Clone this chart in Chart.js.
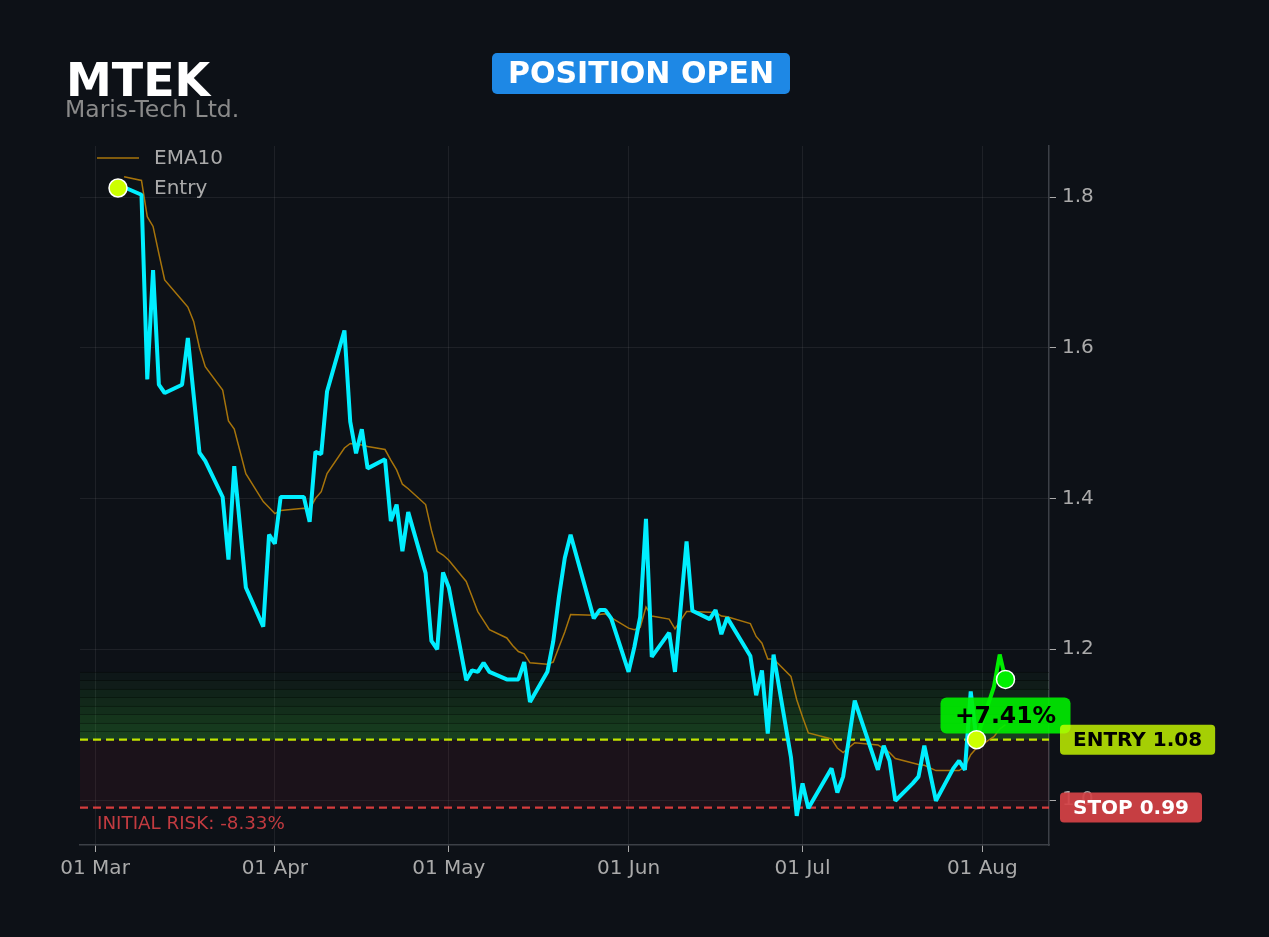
<!DOCTYPE html>
<html>
<head>
<meta charset="utf-8">
<title>MTEK position</title>
<script src="https://cdn.jsdelivr.net/npm/chart.js@4.4.1/dist/chart.umd.min.js"></script>
<style>
  html, body { margin: 0; padding: 0; background: #0d1117; }
  canvas { display: block; }
</style>
</head>
<body>
<canvas id="chart" width="1269" height="937"></canvas>
<script>
// --- data ---
const dates = [
  '2026-03-06','2026-03-09','2026-03-10','2026-03-11','2026-03-12','2026-03-13',
  '2026-03-16','2026-03-17','2026-03-18','2026-03-19','2026-03-20',
  '2026-03-23','2026-03-24','2026-03-25','2026-03-27',
  '2026-03-30','2026-03-31','2026-04-01','2026-04-02',
  '2026-04-06','2026-04-07','2026-04-08','2026-04-09','2026-04-10',
  '2026-04-13','2026-04-14','2026-04-15','2026-04-16','2026-04-17',
  '2026-04-20','2026-04-21','2026-04-22','2026-04-23','2026-04-24',
  '2026-04-27','2026-04-28','2026-04-29','2026-04-30','2026-05-01',
  '2026-05-04','2026-05-05','2026-05-06','2026-05-07','2026-05-08',
  '2026-05-11','2026-05-12','2026-05-13','2026-05-14','2026-05-15',
  '2026-05-18','2026-05-19','2026-05-20','2026-05-21','2026-05-22',
  '2026-05-26','2026-05-27','2026-05-28','2026-05-29',
  '2026-06-01','2026-06-02','2026-06-03','2026-06-04','2026-06-05',
  '2026-06-08','2026-06-09','2026-06-11','2026-06-12',
  '2026-06-15','2026-06-16','2026-06-17','2026-06-18',
  '2026-06-22','2026-06-23','2026-06-24','2026-06-25','2026-06-26',
  '2026-06-29','2026-06-30','2026-07-01','2026-07-02',
  '2026-07-06','2026-07-07','2026-07-08','2026-07-10',
  '2026-07-14','2026-07-15','2026-07-16','2026-07-17',
  '2026-07-20','2026-07-21','2026-07-22','2026-07-24',
  '2026-07-27','2026-07-28','2026-07-29','2026-07-30','2026-07-31',
  '2026-08-03','2026-08-04','2026-08-05'
]

const closes = [
  1.813, 1.803, 1.558, 1.703, 1.551, 1.540,
  1.551, 1.613, 1.537, 1.461, 1.450,
  1.402, 1.319, 1.443, 1.282,
  1.230, 1.352, 1.340, 1.402,
  1.402, 1.369, 1.462, 1.459, 1.542,
  1.623, 1.502, 1.460, 1.492, 1.440,
  1.452, 1.370, 1.392, 1.330, 1.382,
  1.301, 1.211, 1.200, 1.302, 1.282,
  1.159, 1.172, 1.170, 1.182, 1.170,
  1.160, 1.160, 1.160, 1.183, 1.130,
  1.170, 1.210, 1.270, 1.321, 1.352,
  1.241, 1.252, 1.252, 1.241,
  1.170, 1.203, 1.243, 1.373, 1.190,
  1.222, 1.170, 1.343, 1.251,
  1.240, 1.252, 1.220, 1.242,
  1.191, 1.139, 1.172, 1.088, 1.193,
  1.057, 0.979, 1.022, 0.989,
  1.042, 1.010, 1.031, 1.132,
  1.040, 1.072, 1.052, 0.999,
  1.022, 1.031, 1.072, 0.999,
  1.042, 1.052, 1.040, 1.144, 1.080,
  1.150, 1.193, 1.160
]

const ema10 = [
  1.827, 1.822, 1.774, 1.761, 1.725, 1.690,
  1.663, 1.654, 1.635, 1.600, 1.575,
  1.544, 1.503, 1.492, 1.433,
  1.396, 1.388, 1.380, 1.384,
  1.387, 1.386, 1.400, 1.409, 1.433,
  1.467, 1.473, 1.472, 1.471, 1.469,
  1.465, 1.451, 1.438, 1.419, 1.413,
  1.392, 1.358, 1.330, 1.325, 1.318,
  1.290, 1.270, 1.250, 1.238, 1.226,
  1.215, 1.205, 1.197, 1.194, 1.182,
  1.180, 1.183, 1.203, 1.223, 1.246,
  1.245, 1.246, 1.247, 1.242,
  1.228, 1.226, 1.229, 1.256, 1.244,
  1.240, 1.227, 1.250, 1.250,
  1.249, 1.249, 1.244, 1.243,
  1.234, 1.217, 1.208, 1.187, 1.187,
  1.164, 1.133, 1.110, 1.089,
  1.081, 1.069, 1.063, 1.076,
  1.073, 1.068, 1.063, 1.055,
  1.049, 1.047, 1.046, 1.039,
  1.039, 1.039, 1.044, 1.060, 1.069,
  1.084, 1.094, 1.100
]

const entryDate = '2026-07-31'
const entryPrice = 1.08
const stopPrice = 0.99

const xTickDates = ['2026-03-01','2026-04-01','2026-05-01','2026-06-01','2026-07-01','2026-08-01']
const xTickLabels = ['01 Mar','01 Apr','01 May','01 Jun','01 Jul','01 Aug']
const yTicks = [1.0, 1.2, 1.4, 1.6, 1.8]

// --- look ---
const CYAN = '#00eeff'
const GREEN = '#00ee00'
const LIME = '#ccff00'
const EMA_COLOR = 'rgba(184,128,10,0.9)'
const FONT = 'DejaVu Sans'
const bandTop = 1.17
const bandCount = 8

Chart.defaults.font.family = FONT

const dayOf = s => {
  const [y, m, d] = s.split('-').map(Number)
  return (Date.UTC(y, m - 1, d) - Date.UTC(2026, 2, 1)) / 86400000
}

const days = dates.map(dayOf)
const entryDay = dayOf(entryDate)
const lastDay = days[days.length - 1]
const lastClose = closes[closes.length - 1]
const pnl = (lastClose / entryPrice - 1) * 100
const risk = (stopPrice / entryPrice - 1) * 100

const pricePoints = days.map((x, i) => ({ x, y: closes[i] }))
const emaPoints = days.map((x, i) => ({ x, y: ema10[i] }))

const roundBox = (ctx, x, y, w, h, r, fill) => {
  ctx.beginPath()
  ctx.roundRect(x, y, w, h, r)
  ctx.fillStyle = fill
  ctx.fill()
}

// entry / stop zones and their dashed lines
const zones = {
  id: 'zones',
  beforeDatasetsDraw(chart) {
    const { ctx, chartArea: a, scales: { y } } = chart
    const yEntry = y.getPixelForValue(entryPrice)
    const yStop = y.getPixelForValue(stopPrice)
    ctx.save()
    ctx.beginPath()
    ctx.rect(a.left, a.top, a.width, a.height)
    ctx.clip()

    ctx.fillStyle = 'rgba(200,40,60,0.08)'
    ctx.fillRect(a.left, yEntry, a.width, yStop - yEntry)

    const step = (bandTop - entryPrice) / bandCount
    for (let i = 0; i < bandCount; i++) {
      const y0 = y.getPixelForValue(entryPrice + i * step)
      const y1 = y.getPixelForValue(entryPrice + (i + 1) * step)
      const alpha = 0.29 - i * (0.25 / (bandCount - 1))
      ctx.fillStyle = `rgba(50,180,50,${alpha.toFixed(3)})`
      ctx.fillRect(a.left, y1, a.width, y0 - y1)
      ctx.strokeStyle = 'rgba(0,0,0,0.35)'
      ctx.lineWidth = 1
      ctx.beginPath()
      ctx.moveTo(a.left, Math.round(y1) + 0.5)
      ctx.lineTo(a.right, Math.round(y1) + 0.5)
      ctx.stroke()
    }

    ctx.lineWidth = 2.2
    ctx.setLineDash([8, 5])
    ctx.strokeStyle = 'rgba(204,240,0,0.95)'
    ctx.beginPath()
    ctx.moveTo(a.left, yEntry)
    ctx.lineTo(a.right, yEntry)
    ctx.stroke()
    ctx.strokeStyle = 'rgba(235,65,65,0.9)'
    ctx.beginPath()
    ctx.moveTo(a.left, yStop)
    ctx.lineTo(a.right, yStop)
    ctx.stroke()
    ctx.restore()
  },
  beforeDatasetDraw(chart, args) {
    // P&L badge sits above the price line but under the markers
    if (args.index !== 2) return
    const { ctx, scales: { x, y } } = chart
    const cx = x.getPixelForValue(lastDay)
    const cy = y.getPixelForValue(lastClose) + 36
    const w = 130, h = 36
    ctx.save()
    roundBox(ctx, cx - w / 2, cy - h / 2, w, h, 6, 'rgba(0,240,0,0.9)')
    ctx.fillStyle = '#000'
    ctx.font = `bold 23.5px "${FONT}"`
    ctx.textAlign = 'center'
    ctx.textBaseline = 'middle'
    ctx.fillText((pnl >= 0 ? '+' : '') + pnl.toFixed(2) + '%', cx, cy + 1)
    ctx.restore()
  }
}

// header, legend, labels
const overlay = {
  id: 'overlay',
  afterDraw(chart) {
    const { ctx, chartArea: a, scales: { y } } = chart
    ctx.save()
    ctx.textBaseline = 'alphabetic'
    ctx.textAlign = 'left'
    ctx.fillStyle = '#ffffff'
    ctx.font = `bold 46px "${FONT}"`
    ctx.fillText('MTEK', 66, 96)
    ctx.fillStyle = '#8a8a8a'
    ctx.font = `23.5px "${FONT}"`
    ctx.fillText('Maris-Tech Ltd.', 65, 117)

    roundBox(ctx, 492, 53, 298, 41, 5, '#1e88e5')
    ctx.fillStyle = '#ffffff'
    ctx.font = `bold 30px "${FONT}"`
    ctx.textAlign = 'center'
    ctx.textBaseline = 'middle'
    ctx.fillText('POSITION OPEN', 641, 75)

    // legend
    ctx.textAlign = 'left'
    ctx.font = `20px "${FONT}"`
    ctx.strokeStyle = EMA_COLOR
    ctx.lineWidth = 1.5
    ctx.beginPath()
    ctx.moveTo(97, 158)
    ctx.lineTo(139, 158)
    ctx.stroke()
    ctx.fillStyle = '#aaaaaa'
    ctx.fillText('EMA10', 154, 159)
    ctx.beginPath()
    ctx.arc(118, 188, 9, 0, Math.PI * 2)
    ctx.fillStyle = LIME
    ctx.fill()
    ctx.strokeStyle = '#ffffff'
    ctx.lineWidth = 1.5
    ctx.stroke()
    ctx.fillStyle = '#aaaaaa'
    ctx.fillText('Entry', 154, 189)

    // initial risk note
    ctx.fillStyle = '#c23b40'
    ctx.font = `18.3px "${FONT}"`
    ctx.fillText('INITIAL RISK: ' + risk.toFixed(2) + '%', 97, y.getPixelForValue(stopPrice) + 17)

    // right side price tags
    const tag = (text, value, fill, color) => {
      const cy = y.getPixelForValue(value)
      ctx.font = `bold 20px "${FONT}"`
      const w = ctx.measureText(text).width + 26
      roundBox(ctx, a.right + 11, cy - 15, w, 30, 4, fill)
      ctx.fillStyle = color
      ctx.textBaseline = 'middle'
      ctx.fillText(text, a.right + 24, cy + 1)
    }
    tag('ENTRY ' + entryPrice.toFixed(2), entryPrice, 'rgba(204,255,0,0.8)', '#000')
    tag('STOP ' + stopPrice.toFixed(2), stopPrice, 'rgba(214,66,70,0.92)', '#fff')
    ctx.restore()
  }
}

new Chart(document.getElementById('chart'), {
  type: 'line',
  data: {
    datasets: [
      {
        label: 'EMA10',
        data: emaPoints,
        borderColor: EMA_COLOR,
        borderWidth: 1.5,
        pointRadius: 0,
        order: 4,
      },
      {
        label: 'Price',
        data: pricePoints,
        borderColor: CYAN,
        borderWidth: 4,
        pointRadius: 0,
        borderJoinStyle: 'bevel',
        segment: {
          borderColor: c => c.p0.parsed.x >= entryDay ? GREEN : CYAN,
        },
        order: 3,
      },
      {
        label: 'Last',
        data: [{ x: lastDay, y: lastClose }],
        showLine: false,
        pointRadius: 9,
        pointBackgroundColor: GREEN,
        pointBorderColor: '#ffffff',
        pointBorderWidth: 1.5,
        order: 2,
      },
      {
        label: 'Entry',
        data: [{ x: entryDay, y: entryPrice }],
        showLine: false,
        pointRadius: 9,
        pointBackgroundColor: LIME,
        pointBorderColor: '#ffffff',
        pointBorderWidth: 1.5,
        order: 1,
      },
    ]
  },
  options: {
    responsive: false,
    animation: false,
    devicePixelRatio: 1,
    events: [],
    layout: { padding: { left: 80, top: 146, right: 0, bottom: 0 } },
    plugins: {
      legend: { display: false },
      tooltip: { enabled: false },
    },
    scales: {
      x: {
        type: 'linear',
        min: -2.6,
        max: 164.5,
        afterFit: s => { s.height = 92 },
        afterBuildTicks: s => { s.ticks = xTickDates.map(d => ({ value: dayOf(d) })) },
        ticks: {
          callback: (v, i) => xTickLabels[i],
          color: '#aaaaaa',
          font: { size: 20 },
          padding: 5,
          maxRotation: 0,
          autoSkip: false,
        },
        grid: { color: 'rgba(255,255,255,0.07)', tickColor: '#aaaaaa', tickLength: 7 },
        border: { color: '#3c4047', width: 1.5 },
      },
      y: {
        position: 'right',
        min: 0.9403,
        max: 1.8677,
        afterFit: s => { s.width = 220 },
        afterBuildTicks: s => { s.ticks = yTicks.map(v => ({ value: v })) },
        ticks: {
          callback: v => v.toFixed(1),
          color: '#aaaaaa',
          font: { size: 20 },
          padding: 6,
        },
        grid: { color: 'rgba(255,255,255,0.07)', tickColor: '#aaaaaa', tickLength: 7 },
        border: { color: '#3c4047', width: 1.5 },
      },
    }
  },
  plugins: [zones, overlay]
})
</script>
</body>
</html>
